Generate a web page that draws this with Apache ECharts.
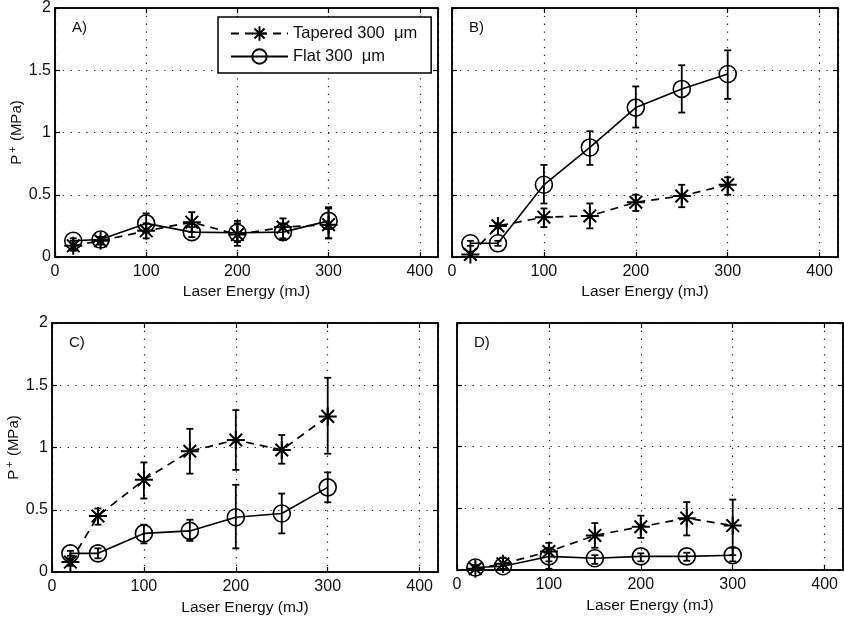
<!DOCTYPE html>
<html>
<head>
<meta charset="utf-8">
<script src="https://cdn.jsdelivr.net/npm/echarts@6/dist/echarts.min.js"></script>
<style>
  html, body { margin: 0; padding: 0; background: #fff; }
  #chart { width: 844px; height: 623px; }
</style>
</head>
<body>
<div id="chart"></div>
<script>
// Laser energy settings (mJ), shared by all four panels
const energy = [20, 50, 100, 150, 200, 250, 300];

// Axis ticks
const xTicks = [0, 100, 200, 300, 400];
const yTicks = [0, 0.5, 1, 1.5, 2];

const seriesNames = ['Tapered 300  \u03bcm', 'Flat 300  \u03bcm'];
const panelLabels = ['A)', 'B)', 'C)', 'D)'];

// Panel A
const taperedA   = [0.09, 0.13, 0.21, 0.28, 0.18, 0.24, 0.26];
const taperedALo = [0.05, 0.10, 0.15, 0.20, 0.09, 0.15, 0.15];
const taperedAHi = [0.13, 0.16, 0.27, 0.36, 0.29, 0.31, 0.39];
const flatA      = [0.13, 0.14, 0.27, 0.20, 0.195, 0.20, 0.29];
const flatALo    = [0.11, 0.12, 0.20, 0.16, 0.12, 0.14, 0.15];
const flatAHi    = [0.15, 0.16, 0.35, 0.24, 0.27, 0.27, 0.40];

// Panel B
const taperedB   = [0.02, 0.25, 0.32, 0.33, 0.44, 0.49, 0.58];
const taperedBLo = [0.00, 0.23, 0.24, 0.23, 0.37, 0.40, 0.50];
const taperedBHi = [0.04, 0.27, 0.39, 0.43, 0.50, 0.58, 0.64];
const flatB      = [0.11, 0.11, 0.58, 0.88, 1.20, 1.35, 1.47];
const flatBLo    = [0.09, 0.09, 0.43, 0.74, 1.04, 1.16, 1.27];
const flatBHi    = [0.13, 0.13, 0.74, 1.01, 1.37, 1.54, 1.66];

// Panel C
const taperedC   = [0.08, 0.45, 0.74, 0.97, 1.06, 0.98, 1.25];
const taperedCLo = [0.05, 0.38, 0.59, 0.79, 0.82, 0.87, 0.95];
const taperedCHi = [0.11, 0.51, 0.88, 1.15, 1.30, 1.10, 1.56];
const flatC      = [0.15, 0.15, 0.31, 0.33, 0.44, 0.47, 0.68];
const flatCLo    = [0.13, 0.11, 0.23, 0.25, 0.19, 0.31, 0.56];
const flatCHi    = [0.17, 0.19, 0.38, 0.42, 0.70, 0.63, 0.80];

// Panel D
const taperedD   = [0.01, 0.05, 0.15, 0.28, 0.35, 0.42, 0.36];
const taperedDLo = [0.00, 0.00, 0.07, 0.18, 0.26, 0.28, 0.12];
const taperedDHi = [0.02, 0.10, 0.22, 0.38, 0.44, 0.55, 0.57];
const flatD      = [0.02, 0.03, 0.11, 0.095, 0.11, 0.11, 0.12];
const flatDLo    = [0.00, 0.01, 0.01, 0.05, 0.07, 0.075, 0.07];
const flatDHi    = [0.04, 0.05, 0.18, 0.12, 0.135, 0.14, 0.18];

const panels = [
  { tap: [taperedA, taperedALo, taperedAHi], flat: [flatA, flatALo, flatAHi] },
  { tap: [taperedB, taperedBLo, taperedBHi], flat: [flatB, flatBLo, flatBHi] },
  { tap: [taperedC, taperedCLo, taperedCHi], flat: [flatC, flatCLo, flatCHi] },
  { tap: [taperedD, taperedDLo, taperedDHi], flat: [flatD, flatDLo, flatDHi] }
];

// Grid placement of the 2x2 layout
const gridBoxes = [
  { left: 55,  top: 8,   width: 383, height: 249, yLabels: true },
  { left: 452, top: 8,   width: 386, height: 249, yLabels: false },
  { left: 52,  top: 323, width: 386, height: 249, yLabels: true },
  { left: 457, top: 323, width: 386, height: 247, yLabels: false }
];

const FONT = 'Liberation Sans';
const ASTERISK = 'path://M10 0 L10 20 M0 10 L20 10 M3 3 L17 17 M3 17 L17 3';
const X_MAX = 420;
const DOTS = [1.3, 6.5];

const grids = [], xAxes = [], yAxes = [], series = [], graphics = [];

function xAxisBase(i, pos, withLabels) {
  return {
    type: 'value', gridIndex: i, position: pos, min: 0, max: X_MAX, interval: 100,
    axisLine: { show: true, onZero: false, lineStyle: { color: '#000', width: 1.5 } },
    axisTick: { show: true, inside: true, length: 5, lineStyle: { color: '#000', width: 1.2 } },
    axisLabel: {
      show: withLabels, color: '#111', fontSize: 16, fontFamily: FONT, margin: 7,
      showMaxLabel: false,
      formatter: v => (xTicks.indexOf(v) >= 0 ? String(v) : '')
    },
    splitLine: { show: pos === 'bottom', lineStyle: { color: '#222', width: 1.2, type: DOTS } }
  };
}

function yAxisBase(i, pos, withLabels) {
  return {
    type: 'value', gridIndex: i, position: pos, min: 0, max: 2, interval: 0.5,
    axisLine: { show: true, onZero: false, lineStyle: { color: '#000', width: 1.5 } },
    axisTick: { show: true, inside: true, length: 5, lineStyle: { color: '#000', width: 1.2 } },
    axisLabel: {
      show: withLabels, color: '#111', fontSize: 16, fontFamily: FONT, margin: 4,
      formatter: v => (yTicks.indexOf(v) >= 0 ? String(v) : '')
    },
    splitLine: { show: pos === 'left', lineStyle: { color: '#222', width: 1.2, type: DOTS } }
  };
}

function errorBarSeries(gi, xi, yi, lo, hi) {
  return {
    type: 'custom', xAxisIndex: xi, yAxisIndex: yi, z: 3, silent: true,
    data: energy.map((e, k) => [e, lo[k], hi[k]]),
    encode: { x: 0, y: [1, 2] },
    renderItem: function (params, api) {
      const top = api.coord([api.value(0), api.value(2)]);
      const bot = api.coord([api.value(0), api.value(1)]);
      const cap = 3.5;
      const style = { stroke: '#000', lineWidth: 1.8 };
      return {
        type: 'group',
        children: [
          { type: 'line', shape: { x1: top[0], y1: top[1], x2: bot[0], y2: bot[1] }, style },
          { type: 'line', shape: { x1: top[0] - cap, y1: top[1], x2: top[0] + cap, y2: top[1] }, style },
          { type: 'line', shape: { x1: bot[0] - cap, y1: bot[1], x2: bot[0] + cap, y2: bot[1] }, style }
        ]
      };
    }
  };
}

gridBoxes.forEach((g, i) => {
  grids.push({
    left: g.left, top: g.top, width: g.width, height: g.height,
    show: true, borderColor: '#000', borderWidth: 1.5, backgroundColor: 'transparent'
  });

  const xb = xAxisBase(i, 'bottom', true);
  xb.name = 'Laser Energy (mJ)';
  xb.nameLocation = 'middle';
  xb.nameGap = i < 2 ? 27 : 28;
  xb.nameTextStyle = { color: '#111', fontSize: 15.5, fontFamily: FONT };
  const xBottomIdx = xAxes.length;
  xAxes.push(xb);
  xAxes.push(xAxisBase(i, 'top', false));

  const yl = yAxisBase(i, 'left', g.yLabels);
  if (g.yLabels) {
    yl.name = '{p|P}{s|+}{p| (MPa)}';
    yl.nameLocation = 'middle';
    yl.nameGap = 27;
    yl.nameTextStyle = {
      color: '#111', fontSize: 15, fontFamily: FONT,
      rich: {
        p: { fontSize: 15, fontFamily: FONT, color: '#111' },
        s: { fontSize: 11, fontFamily: FONT, color: '#111', padding: [0, 1, 9, 2] }
      }
    };
  }
  const yLeftIdx = yAxes.length;
  yAxes.push(yl);
  yAxes.push(yAxisBase(i, 'right', false));

  const p = panels[i];
  series.push(errorBarSeries(i, xBottomIdx, yLeftIdx, p.tap[1], p.tap[2]));
  series.push(errorBarSeries(i, xBottomIdx, yLeftIdx, p.flat[1], p.flat[2]));

  series.push({
    name: seriesNames[0], type: 'line', xAxisIndex: xBottomIdx, yAxisIndex: yLeftIdx, z: 4,
    data: energy.map((e, k) => [e, p.tap[0][k]]),
    symbol: ASTERISK, symbolSize: 18, showAllSymbol: true,
    lineStyle: { color: '#000', width: 1.7, type: [8, 6] },
    itemStyle: { color: 'transparent', borderColor: '#000', borderWidth: 2 },
    emphasis: { disabled: true }, animation: false
  });
  series.push({
    name: seriesNames[1], type: 'line', xAxisIndex: xBottomIdx, yAxisIndex: yLeftIdx, z: 4,
    data: energy.map((e, k) => [e, p.flat[0][k]]),
    symbol: 'circle', symbolSize: 17, showAllSymbol: true,
    lineStyle: { color: '#000', width: 1.6, type: 'solid' },
    itemStyle: { color: 'transparent', borderColor: '#000', borderWidth: 1.6 },
    emphasis: { disabled: true }, animation: false
  });

  graphics.push({
    type: 'text', left: g.left + 17, top: g.top + 12, z: 10,
    style: { text: panelLabels[i], fill: '#111', fontSize: 15, fontFamily: FONT }
  });
});

const chart = echarts.init(document.getElementById('chart'), null, { renderer: 'canvas' });
chart.setOption({
  backgroundColor: '#fff',
  animation: false,
  grid: grids,
  xAxis: xAxes,
  yAxis: yAxes,
  legend: {
    data: seriesNames,
    orient: 'vertical',
    left: 218, top: 17,
    padding: [8, 14, 8, 12],
    itemGap: 6,
    itemWidth: 57, itemHeight: 18,
    backgroundColor: '#fff',
    borderColor: '#000', borderWidth: 1.5,
    textStyle: { color: '#111', fontSize: 16.5, fontFamily: FONT },
    selectedMode: false,
    z: 20
  },
  graphic: graphics,
  series: series
});
</script>
</body>
</html>
